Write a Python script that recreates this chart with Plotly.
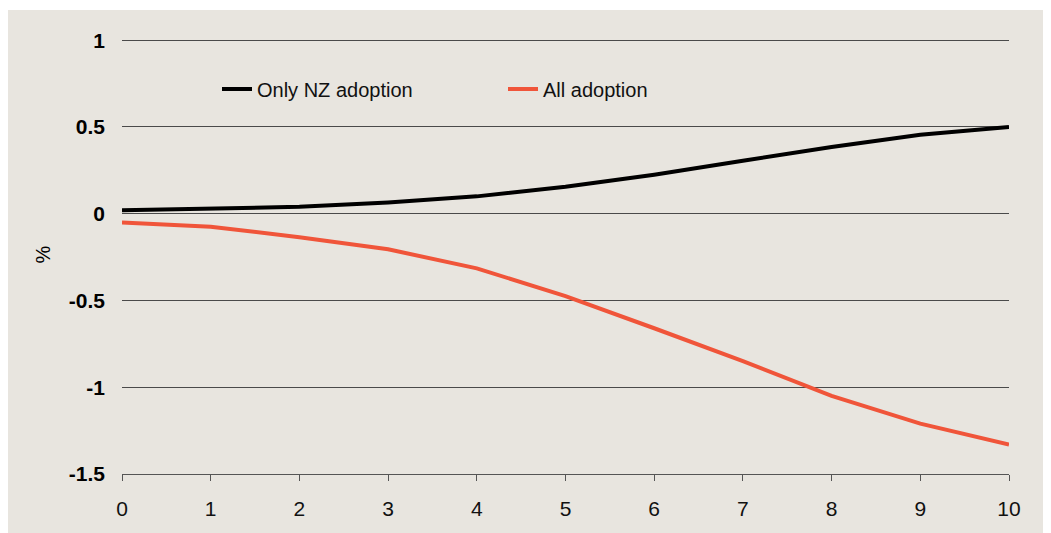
import plotly.graph_objects as go

years = [0, 1, 2, 3, 4, 5, 6, 7, 8, 9, 10]
only_nz = [0.02, 0.03, 0.04, 0.065, 0.10, 0.155, 0.225, 0.305, 0.385, 0.455, 0.50]
all_adopt = [-0.05, -0.075, -0.135, -0.205, -0.315, -0.475, -0.66, -0.85, -1.05, -1.21, -1.33]
y_ticks = [1, 0.5, 0, -0.5, -1, -1.5]
y_tick_labels = ["1", "0.5", "0", "-0.5", "-1", "-1.5"]

BEIGE = "#E8E5DF"
FONT = "Liberation Sans, Arial, sans-serif"

fig = go.Figure()
fig.add_trace(go.Scatter(x=years, y=only_nz, mode="lines", name="Only NZ adoption",
                         line=dict(color="#000000", width=4)))
fig.add_trace(go.Scatter(x=years, y=all_adopt, mode="lines", name="All adoption",
                         line=dict(color="#F0553A", width=4)))

# figure is placed at page offset (8, 8)
W, H = 1043, 525
L, T = 114, 27
R = W - 1001
B = H - 466
pw, ph = W - L - R, H - T - B

fig.add_shape(type="rect", xref="paper", yref="paper",
              x0=-L / pw, x1=(W - L) / pw,
              y0=-B / ph, y1=(H - B - 2) / ph,
              fillcolor=BEIGE, line=dict(width=0), layer="below")

fig.update_layout(
    width=W, height=H,
    margin=dict(l=L, r=R, t=T, b=B, pad=0),
    paper_bgcolor="white",
    plot_bgcolor="rgba(0,0,0,0)",
    font=dict(family=FONT, color="#000000"),
    showlegend=True,
    legend=dict(orientation="h", x=(209 - L) / pw, xanchor="left",
                y=(H - B - 81) / ph, yanchor="middle",
                bgcolor="rgba(0,0,0,0)", font=dict(size=20, family=FONT, color="#111111"),
                entrywidth=241, entrywidthmode="pixels", itemclick=False),
    xaxis=dict(range=[0, 10], tickmode="array", tickvals=years,
               ticktext=[str(v) for v in years],
               showgrid=False, zeroline=False, showline=True,
               linecolor="#555555", linewidth=1,
               ticks="outside", ticklen=6, tickcolor="#555555",
               ticklabelstandoff=10,
               tickfont=dict(size=21, family=FONT, color="#111111"), fixedrange=True),
    yaxis=dict(range=[-1.5, 1.03], tickmode="array", tickvals=y_ticks,
               ticktext=["<b>%s</b>" % t for t in y_tick_labels],
               showgrid=True, gridcolor="#4a4a4a", gridwidth=1,
               zeroline=False, showline=False, ticks="",
               ticklabelstandoff=16,
               tickfont=dict(size=21, family=FONT),
               title=dict(text="%", font=dict(size=20, family=FONT), standoff=12),
               fixedrange=True),
)

fig.write_html("out.html")
